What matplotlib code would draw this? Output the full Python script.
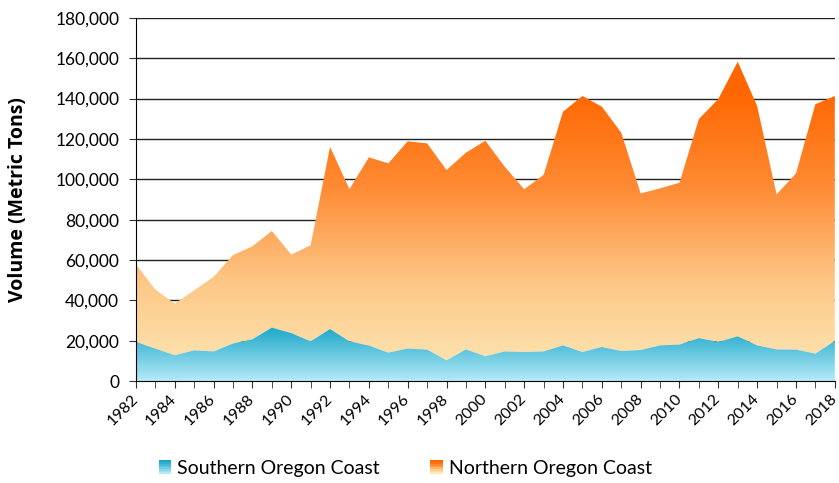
import numpy as np
import matplotlib
matplotlib.use("Agg")
import matplotlib.pyplot as plt
import matplotlib.transforms as mtransforms
from matplotlib.colors import LinearSegmentedColormap
from matplotlib.patches import Rectangle
from matplotlib.legend_handler import HandlerBase
from matplotlib.ticker import FuncFormatter, MultipleLocator

plt.rcParams['font.family'] = ['Lato', 'DejaVu Sans']

years = list(range(1982, 2019))
# Southern Oregon Coast (metric tons)
southern = [19400, 16100, 12800, 15200, 14700, 18600, 20700, 26500, 23800, 19700,
            25800, 19700, 17600, 14100, 16100, 15600, 10300, 15700, 12300, 14700,
            14400, 14700, 17700, 14400, 16900, 14900, 15400, 17700, 18100, 21300,
            19400, 22200, 17700, 15700, 15600, 13600, 19900]
# Northern Oregon Coast (metric tons), stacked on top of southern
northern = [38400, 29300, 25600, 29800, 36900, 43800, 46100, 47900, 38900, 47600,
            90300, 75400, 93300, 93800, 102700, 102200, 94300, 97500, 106800, 91500,
            80700, 87500, 115800, 126900, 119100, 108200, 77600, 77800, 80200, 108600,
            120400, 136100, 118600, 76800, 87300, 123600, 121400]
series_names = ["Southern Oregon Coast", "Northern Oregon Coast"]

x = np.array(years)
s = np.array(southern)
total = s + np.array(northern)

blue_cmap = LinearSegmentedColormap.from_list("b", ["#b5eaf8", "#1aa6c8"])
orange_cmap = LinearSegmentedColormap.from_list("o", ["#fee8b8", "#fdc887", "#ff8a33", "#ff6600"])

fig, ax = plt.subplots(figsize=(8.39, 4.83), dpi=100)
fig.subplots_adjust(left=0.162, right=0.995, top=0.963, bottom=0.211)

ax.set_axisbelow(True)
ax.yaxis.grid(True, color="#222222", linewidth=1.0)

YMAX = 180000

def gradient_fill(lo, hi, cmap, vfull):
    poly = ax.fill_between(x, lo, hi, facecolor="none", edgecolor="none", zorder=2)
    vals = np.linspace(0, YMAX, 512)
    grad = np.clip(vals / vfull, 0, 1).reshape(-1, 1)
    img = ax.imshow(grad, cmap=cmap, vmin=0, vmax=1, origin="lower", aspect="auto",
                    extent=[x[0], x[-1], 0, YMAX], zorder=2)
    img.set_clip_path(poly.get_paths()[0], transform=ax.transData)

gradient_fill(s, total, orange_cmap, 145000)
gradient_fill(0, s, blue_cmap, 27000)

ax.set_xlim(1982, 2018)
ax.set_ylim(0, YMAX)
ax.yaxis.set_major_locator(MultipleLocator(20000))
ax.yaxis.set_major_formatter(FuncFormatter(lambda v, p: f"{int(v):,}"))
ax.set_xticks(years[::2])
ax.set_xticks(years, minor=True)
ax.tick_params(axis="x", which="both", length=5, color="#333333", pad=3)
ax.tick_params(axis="y", length=5, color="#333333", labelsize=12.5, pad=7)
shift = mtransforms.ScaledTranslation(-5 / 100, 0, fig.dpi_scale_trans)
for lbl in ax.get_xticklabels():
    lbl.set_rotation(45)
    lbl.set_ha("right")
    lbl.set_rotation_mode("anchor")
    lbl.set_fontsize(11.5)
    lbl.set_transform(lbl.get_transform() + shift)

for side in ["top", "right"]:
    ax.spines[side].set_visible(False)
ax.spines["left"].set_color("black")
ax.spines["bottom"].set_color("black")

ax.set_ylabel("Volume (Metric Tons)", fontsize=14, fontweight="bold",
              family=["Open Sans", "DejaVu Sans"])
ax.yaxis.set_label_coords(-(136 - 28) / 699.0, 0.5)


class GradHandler(HandlerBase):
    def __init__(self, cmap):
        super().__init__()
        self.cmap = cmap

    def create_artists(self, legend, orig_handle, xdescent, ydescent, width, height, fontsize, trans):
        arts = []
        n = 8
        for i in range(n):
            c = self.cmap(1 - i / (n - 1))
            r = Rectangle((-xdescent, -ydescent + height - (i + 1) * height / n), width, height / n,
                          facecolor=c, edgecolor="none", transform=trans)
            arts.append(r)
        return arts


h1 = Rectangle((0, 0), 1, 1)
h2 = Rectangle((0, 0), 1, 1)
fig.legend([h1, h2], series_names, loc="lower center", ncol=2, frameon=False,
           bbox_to_anchor=(0.483, -0.024), fontsize=14, handlelength=0.65, handleheight=0.7,
           handletextpad=0.3, columnspacing=2.6,
           handler_map={h1: GradHandler(blue_cmap), h2: GradHandler(orange_cmap)})

fig.savefig("out.png", dpi=100)
plt.close(fig)
